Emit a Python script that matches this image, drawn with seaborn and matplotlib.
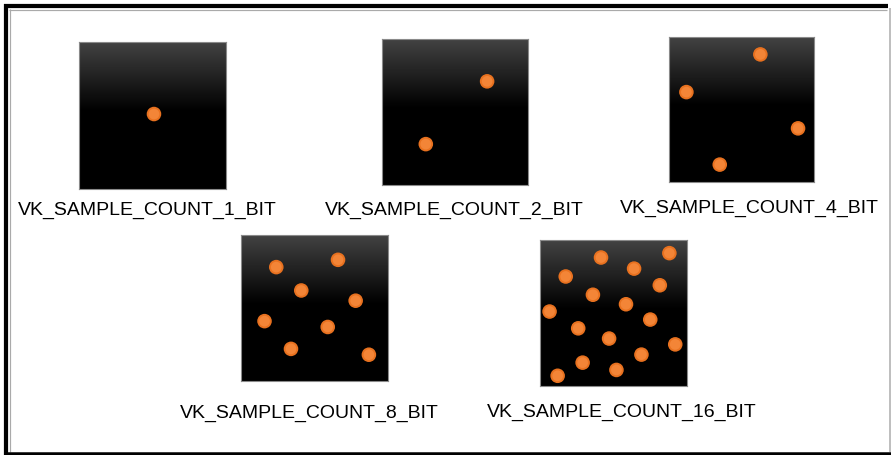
import numpy as np
import pandas as pd
import matplotlib
matplotlib.use("Agg")
import matplotlib.pyplot as plt
from matplotlib.lines import Line2D
import seaborn as sns

# ---- data: sample positions (x right, y down, unit pixel square) ----
labels = ["VK_SAMPLE_COUNT_1_BIT", "VK_SAMPLE_COUNT_2_BIT", "VK_SAMPLE_COUNT_4_BIT",
          "VK_SAMPLE_COUNT_8_BIT", "VK_SAMPLE_COUNT_16_BIT"]

x1 = [0.51]
y1 = [0.49]

x2 = [0.72, 0.30]
y2 = [0.29, 0.72]

x4 = [0.63, 0.12, 0.89, 0.35]
y4 = [0.12, 0.38, 0.63, 0.88]

x8 = [0.24, 0.66, 0.41, 0.78, 0.16, 0.59, 0.34, 0.87]
y8 = [0.22, 0.17, 0.38, 0.45, 0.59, 0.63, 0.78, 0.82]

x16 = [0.415, 0.88, 0.175, 0.64, 0.815, 0.36, 0.585, 0.065,
       0.75, 0.26, 0.47, 0.92, 0.69, 0.29, 0.52, 0.12]
y16 = [0.12, 0.09, 0.25, 0.196, 0.31, 0.375, 0.44, 0.49,
       0.545, 0.605, 0.675, 0.715, 0.785, 0.84, 0.89, 0.93]

xs = [x1, x2, x4, x8, x16]
ys = [y1, y2, y4, y8, y16]

# ---- layout (pixels, top-left origin) ----
W, H = 891, 456
boxes = [(79, 43, 147, 147), (382, 40, 146, 146), (669, 38, 145, 145),
         (241, 236, 147, 146), (540, 241, 147, 146)]
label_pos = [(147, 215), (454, 215), (749.5, 213), (309.5, 418), (622, 417)]

plt.rcParams['font.family'] = ['Liberation Sans', 'DejaVu Sans']
fig = plt.figure(figsize=(W / 100, H / 100), dpi=100)
fig.patch.set_facecolor("white")

# vertical gradient: dark grey at top fading to black
t = np.linspace(0, 1, 256)
g = np.clip(0.26 * (1 - t / 0.47), 0, None)
grad = np.repeat(np.stack([g, g, g], axis=-1)[:, None, :], 2, axis=1)

for (bx, by, bw, bh), xv, yv in zip(boxes, xs, ys):
    ax = fig.add_axes([bx / W, 1 - (by + bh) / H, bw / W, bh / H])
    ax.imshow(grad, extent=(0, 1, 1, 0), aspect="auto", interpolation="bilinear", zorder=0)
    df = pd.DataFrame({"x": xv, "y": yv})
    sns.scatterplot(data=df, x="x", y="y", ax=ax, s=110, color="#e8711f",
                    edgecolor="none", linewidth=0, zorder=2)
    sns.scatterplot(data=df, x="x", y="y", ax=ax, s=60, color="#f38537",
                    edgecolor="none", linewidth=0, zorder=3)
    ax.set_xlim(0, 1)
    ax.set_ylim(1, 0)
    ax.set_xticks([])
    ax.set_yticks([])
    ax.set_xlabel("")
    ax.set_ylabel("")
    for sp in ax.spines.values():
        sp.set_color("#8a8a8a")
        sp.set_linewidth(0.8)

for lab, (lx, ly) in zip(labels, label_pos):
    fig.text(lx / W, 1 - ly / H, lab, ha="center", va="baseline",
             fontsize=14, color="black")

# outer frame
px = 0.72  # points per pixel at 100 dpi
def fline(xa, ya, xb, yb, lw_px, color):
    fig.add_artist(Line2D([xa / W, xb / W], [1 - ya / H, 1 - yb / H],
                          transform=fig.transFigure, color=color,
                          linewidth=lw_px * px, solid_capstyle="butt"))

fline(9, 10.5, 887, 10.5, 1.2, "#aaaaaa")
fline(9.5, 10, 9.5, 453, 1.2, "#aaaaaa")
fline(4, 7, 888, 7, 4.2, "black")
fline(6, 5, 6, 456, 4.2, "black")
fline(4, 454.8, 891, 454.8, 3.5, "black")
fline(889.5, 9, 889.5, 453, 1.5, "#aaaaaa")

fig.savefig("out.png", dpi=100, facecolor="white")
